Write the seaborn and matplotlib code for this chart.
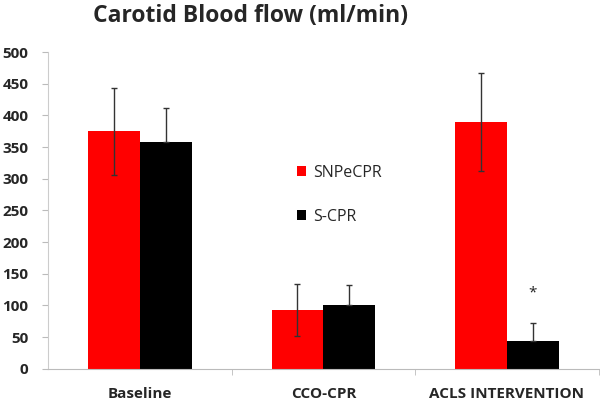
import numpy as np
import pandas as pd
import matplotlib
matplotlib.use("Agg")
import matplotlib.pyplot as plt
import seaborn as sns

# data
categories = ["Baseline", "CCO-CPR", "ACLS INTERVENTION"]
groups = ["SNPeCPR", "S-CPR"]
snpecpr_mean = [375, 93, 390]
snpecpr_err = [69, 41, 77]
scpr_mean = [358, 100, 44]
scpr_err = [54, 33, 29]
colors = ["#ff0000", "#000000"]

df = pd.DataFrame({
    "phase": categories * 2,
    "group": [groups[0]] * 3 + [groups[1]] * 3,
    "flow": snpecpr_mean + scpr_mean,
    "err": snpecpr_err + scpr_err,
})

sns.set_style("white")
plt.rcParams["font.family"] = ["Open Sans", "DejaVu Sans"]

fig = plt.figure(figsize=(6, 4.07), dpi=100)
ax = fig.add_axes([0.08, 0.094, 0.918, 0.778])

sns.barplot(data=df, x="phase", y="flow", hue="group", palette=colors,
            width=0.565, saturation=1, errorbar=None, linewidth=0, ax=ax, zorder=2)

# error bars: the lower half of the black bars' whiskers is hidden in the bar
for i, (cont, errs) in enumerate(zip(ax.containers, [snpecpr_err, scpr_err])):
    for patch, e in zip(cont.patches, errs):
        xc = patch.get_x() + patch.get_width() / 2
        yerr = [[e], [e]] if i == 0 else [[0], [e]]
        ax.errorbar(xc, patch.get_height(), yerr=yerr, fmt="none", ecolor="#333333",
                    elinewidth=1, capsize=2.5, capthick=1, zorder=3)

# significance marker
acls_black = ax.containers[1].patches[2]
ax.text(acls_black.get_x() + acls_black.get_width() / 2, 108, "*",
        ha="center", va="bottom", fontsize=11, color="#222222")

ax.set_xlim(-0.5, 2.5)
ax.set_ylim(0, 500)
ax.set_yticks(np.arange(0, 501, 50))
ax.set_xlabel("")
ax.set_ylabel("")
ax.tick_params(axis="y", labelsize=11, length=4, color="#bbbbbb", direction="out", pad=10, left=True)
ax.tick_params(axis="x", which="major", labelsize=11, length=0, pad=13)
ax.set_xticks([0.5, 1.5, 2.5], minor=True)
ax.tick_params(axis="x", which="minor", length=4, color="#bbbbbb", direction="out", bottom=True)
for lab in ax.get_xticklabels() + ax.get_yticklabels():
    lab.set_fontweight("bold")

for side in ["top", "right"]:
    ax.spines[side].set_visible(False)
ax.spines["left"].set_color("#cccccc")
ax.spines["bottom"].set_color("#bbbbbb")

leg = ax.legend(loc="upper left", bbox_to_anchor=(0.44, 0.665), frameon=False,
                fontsize=11.5, handlelength=0.6, handleheight=0.6, handletextpad=0.4,
                labelspacing=1.75, borderaxespad=0)

fig.suptitle("Carotid Blood flow (ml/min)", x=0.417, y=0.99, fontsize=16.5, fontweight="bold")

fig.savefig("out.png", dpi=100)
